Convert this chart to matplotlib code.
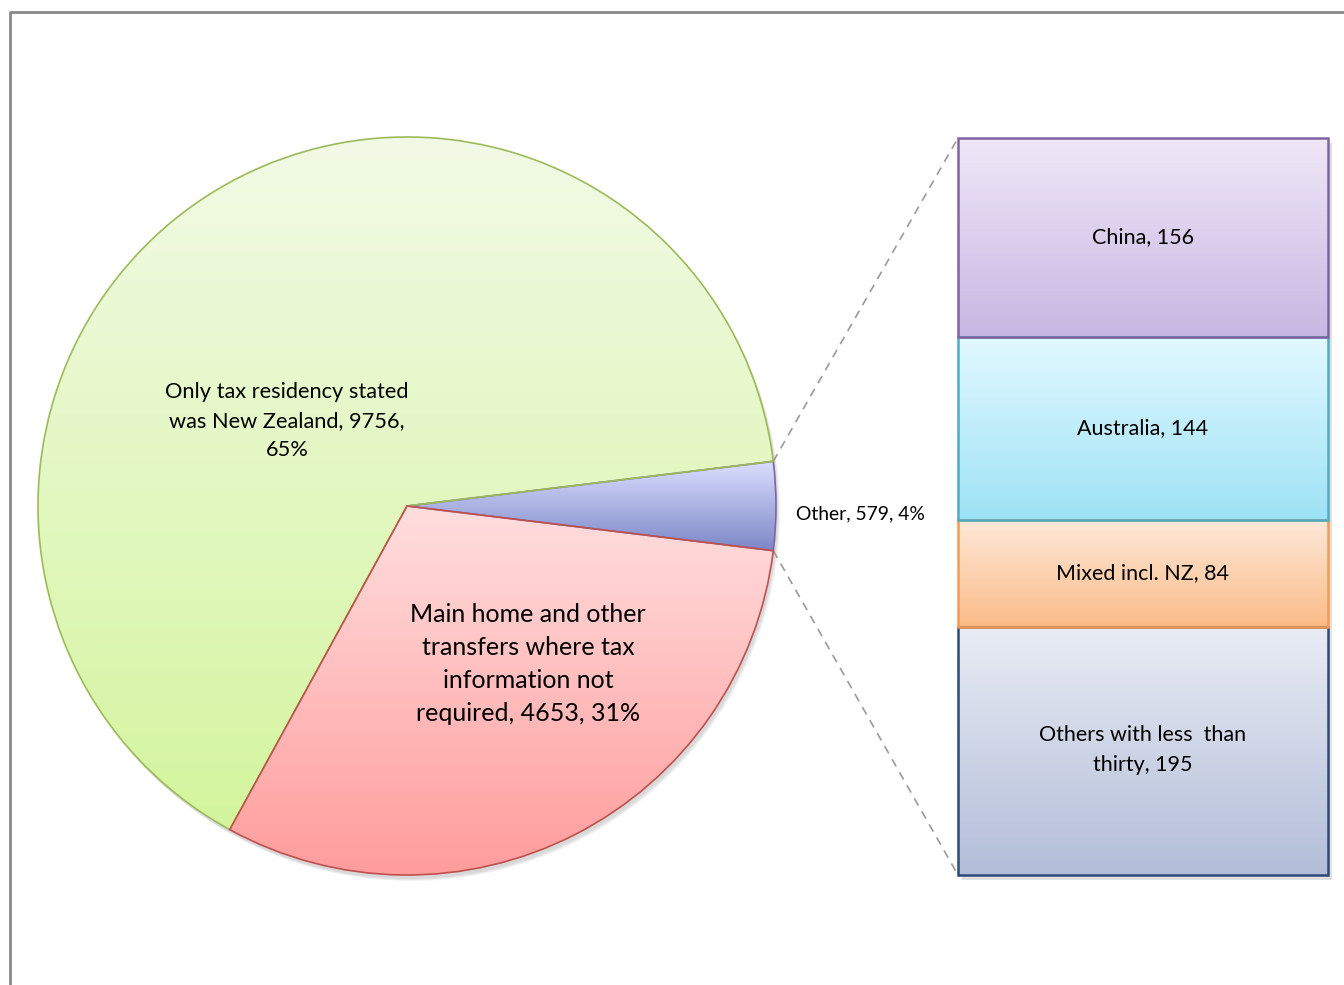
import matplotlib
matplotlib.use("Agg")
import matplotlib.pyplot as plt
import numpy as np
from matplotlib.colors import LinearSegmentedColormap

plt.rcParams["font.family"] = ["Lato", "DejaVu Sans"]

# pie: residency of transferors
pie_labels = ["Other", "Only tax residency stated\nwas New Zealand",
              "Main home and other\ntransfers where tax\ninformation not\nrequired"]
pie_values = [579, 9756, 4653]

# breakdown of "Other", bottom to top
bar_labels = ["Others with less  than\nthirty", "Mixed incl. NZ", "Australia", "China"]
bar_values = [195, 84, 144, 156]

W, H = 1344, 985
CX, CY, R = 407, H - 506, 369
BAR_X0, BAR_X1 = 958, 1328
BAR_Y0, BAR_Y1 = H - 875, H - 138

pie_fill = [("#dadfff", "#7c86c6"), ("#f2fae6", "#d4f59e"), ("#ffdede", "#ff9c9c")]
pie_edge = ["#7f64a6", "#9bbb59", "#c0504d"]
bar_fill = [("#e8ecf4", "#b3bdd8"), ("#fde8d8", "#fbbb88"),
            ("#e2f9ff", "#9ee2f6"), ("#efe7f7", "#c8b7e3")]
bar_edge = ["#2c4a78", "#f59a4e", "#4bacc6", "#8064a2"]


def fill_gradient(ax, patch, top, bottom, z):
    ext = patch.get_path().get_extents(patch.get_patch_transform())
    cmap = LinearSegmentedColormap.from_list("g", [bottom, top])
    grad = np.linspace(0, 1, 256).reshape(-1, 1)
    im = ax.imshow(grad, cmap=cmap, origin="lower", aspect="auto",
                   extent=(ext.x0, ext.x1, ext.y0, ext.y1), zorder=z,
                   interpolation="bicubic")
    im.set_clip_path(patch)


fig = plt.figure(figsize=(W / 100, H / 100), dpi=100)
ax = fig.add_axes([0, 0, 1, 1])

start = -360 * pie_values[0] / sum(pie_values) / 2
wedges, _ = ax.pie(pie_values, center=(CX, CY), radius=R, startangle=start,
                   counterclock=True, frame=True)
# soft drop shadow under the pie
for k, a in enumerate([0.05, 0.05, 0.05]):
    ax.add_patch(plt.Circle((CX + 2 + k, CY - 4 - k), R, color="black",
                            alpha=a, lw=0, zorder=0.5))
for w, (top, bot), ec in zip(wedges, pie_fill, pie_edge):
    w.set_facecolor("none")
    w.set_edgecolor(ec)
    w.set_linewidth(1.2)
    w.set_zorder(3)
    fill_gradient(ax, w, top, bot, 2)

scale = (BAR_Y1 - BAR_Y0) / sum(bar_values)
heights = np.array(bar_values) * scale
bottoms = BAR_Y0 + np.concatenate([[0], np.cumsum(heights)[:-1]])
ax.add_patch(plt.Rectangle((BAR_X0 + 4, BAR_Y0 - 5), BAR_X1 - BAR_X0,
                           BAR_Y1 - BAR_Y0, color="black", alpha=0.12, lw=0,
                           zorder=0.5))
bars = ax.bar((BAR_X0 + BAR_X1) / 2, heights, width=BAR_X1 - BAR_X0,
              bottom=bottoms, zorder=3)
for b, (top, bot), ec in zip(bars, bar_fill, bar_edge):
    b.set_facecolor("none")
    b.set_edgecolor(ec)
    b.set_linewidth(1.8)
    fill_gradient(ax, b, top, bot, 2)

# connector lines from the "Other" slice to the bar
half = np.deg2rad(-start)
for sgn, yb in [(1, BAR_Y1), (-1, BAR_Y0)]:
    px = CX + R * np.cos(sgn * half)
    py = CY + R * np.sin(sgn * half)
    ax.plot([px, BAR_X0], [py, yb], color="#9a9a9a", lw=1.2, ls=(0, (5, 4)),
            zorder=1)

total = sum(pie_values)
ax.text(287, H - 421, f"{pie_labels[1]}, {pie_values[1]},\n"
        f"{round(100 * pie_values[1] / total)}%", ha="center", va="center",
        fontsize=15.7, linespacing=1.58, zorder=5)
ax.text(528, H - 664, f"{pie_labels[2]}, {pie_values[2]}, "
        f"{round(100 * pie_values[2] / total)}%", ha="center", va="center",
        fontsize=18, linespacing=1.52, zorder=5)
ax.text(796, H - 514, f"{pie_labels[0]}, {pie_values[0]}, "
        f"{round(100 * pie_values[0] / total)}%", ha="left", va="center",
        fontsize=13.9, zorder=5)
for b, lab, v in zip(bars, bar_labels, bar_values):
    yc = b.get_y() + b.get_height() / 2
    if lab.startswith("Others"):
        yc = H - 750
    ax.text(b.get_x() + b.get_width() / 2, yc, f"{lab}, {v}", ha="center",
            va="center", fontsize=15.5, linespacing=1.58, zorder=5)

# outer frame
ax.plot([10, 10, W], [0, H - 12, H - 12], color="#8a8a8a", lw=2, zorder=6)

ax.set_xlim(0, W)
ax.set_ylim(0, H)
ax.set_aspect("equal")
ax.axis("off")
fig.savefig("out.png", dpi=100)
